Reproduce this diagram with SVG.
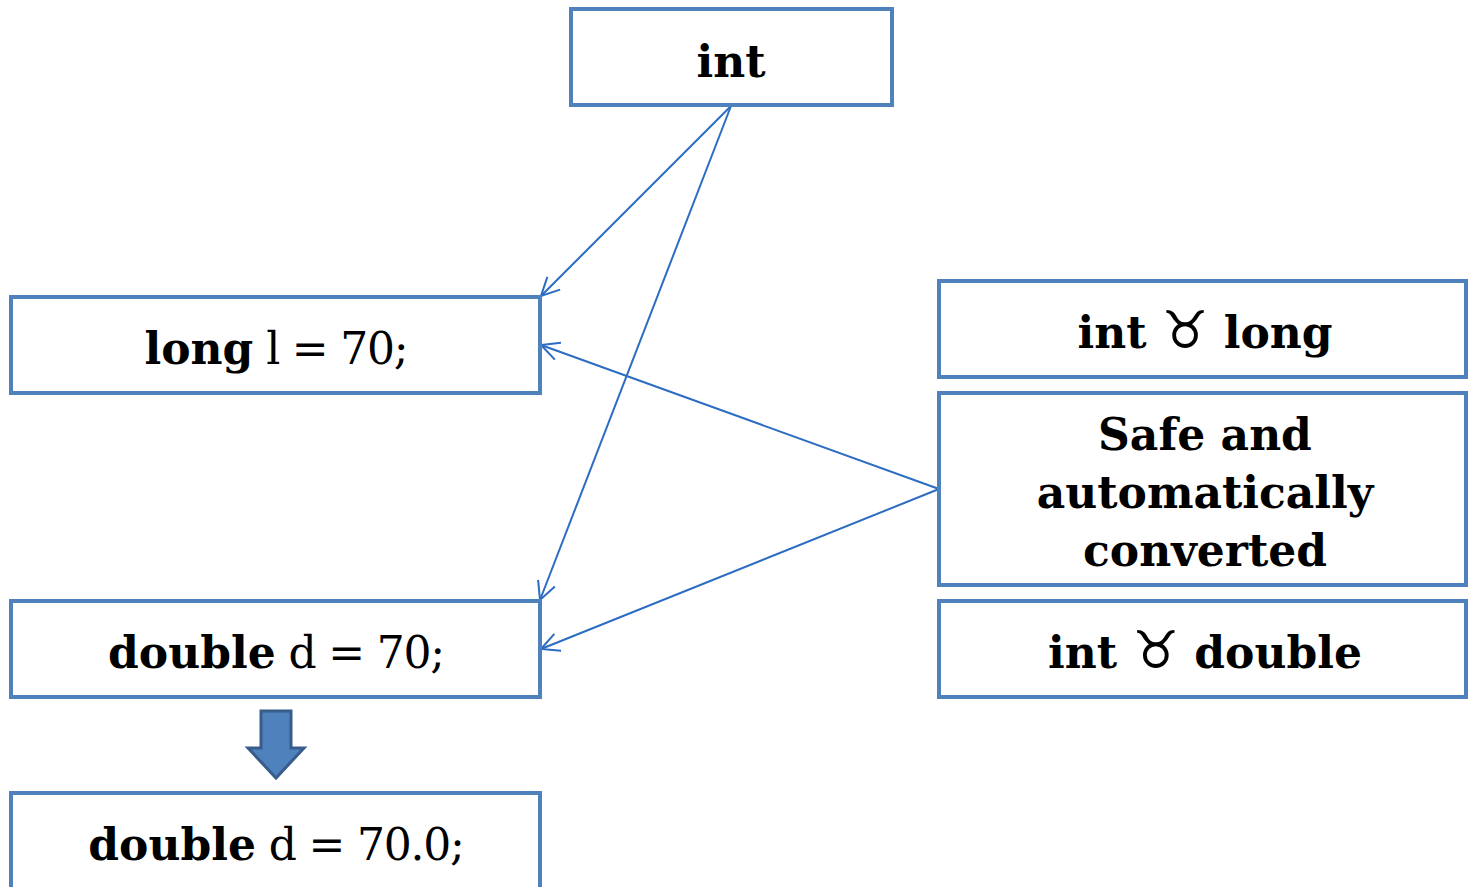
<svg xmlns="http://www.w3.org/2000/svg" width="1468" height="887" viewBox="0 0 1468 887">
<style>
.box{fill:#fff;stroke:#4F81BD;stroke-width:4}
.t{font-family:"DejaVu Serif","Liberation Serif",serif;font-size:44px;fill:#000;text-anchor:middle}
.b{font-weight:bold}
.n{font-weight:normal;letter-spacing:-1.2px}
.sym{font-family:"DejaVu Sans",sans-serif;font-weight:normal;font-size:52px}
.c{stroke:#2C6CC2;stroke-width:2;fill:none;marker-end:url(#ah)}
</style>
<defs>
<marker id="ah" viewBox="0 0 20 20" refX="19" refY="10" markerWidth="20" markerHeight="20" markerUnits="userSpaceOnUse" orient="auto">
<path d="M1 1 L19 10 L1 19" fill="none" stroke="#2C6CC2" stroke-width="2"/>
</marker>
</defs>
<rect width="1468" height="887" fill="#fff"/>
<g id="connectors">
<line class="c" x1="731" y1="106" x2="541" y2="296"/>
<line class="c" x1="731" y1="106" x2="540" y2="600"/>
<line class="c" x1="939" y1="489" x2="541" y2="345"/>
<line class="c" x1="939" y1="489" x2="541" y2="649"/>
</g>
<g id="n-int"><rect class="box" x="571" y="9" width="321" height="96"/><text class="t b" x="731" y="77">int</text></g>
<g id="n-long"><rect class="box" x="11" y="297" width="529" height="96"/><text class="t" x="276" y="364"><tspan class="b">long</tspan><tspan class="n"> l = 70;</tspan></text></g>
<g id="n-double"><rect class="box" x="11" y="601" width="529" height="96"/><text class="t" x="276" y="668"><tspan class="b">double</tspan><tspan class="n"> d = 70;</tspan></text></g>
<g id="n-double2"><rect class="box" x="11" y="793" width="529" height="100"/><text class="t" x="276" y="860"><tspan class="b">double</tspan><tspan class="n"> d = 70.0;</tspan></text></g>
<g id="down-arrow"><path d="M261 711 H291 V748 H304 L276 778 L248 748 H261 Z" fill="#4F81BD" stroke="#385D8A" stroke-width="3" stroke-linejoin="miter"/></g>
<g id="n-int-long"><rect class="box" x="939" y="281" width="527" height="96"/><text class="t b" x="1205" y="348">int <tspan class="sym">♉</tspan> long</text></g>
<g id="n-safe"><rect class="box" x="939" y="393" width="527" height="192"/><text class="t b" x="1205" y="450">Safe and</text><text class="t b" x="1205" y="508">automatically</text><text class="t b" x="1205" y="566">converted</text></g>
<g id="n-int-double"><rect class="box" x="939" y="601" width="527" height="96"/><text class="t b" x="1205" y="668">int <tspan class="sym">♉</tspan> double</text></g>
</svg>
